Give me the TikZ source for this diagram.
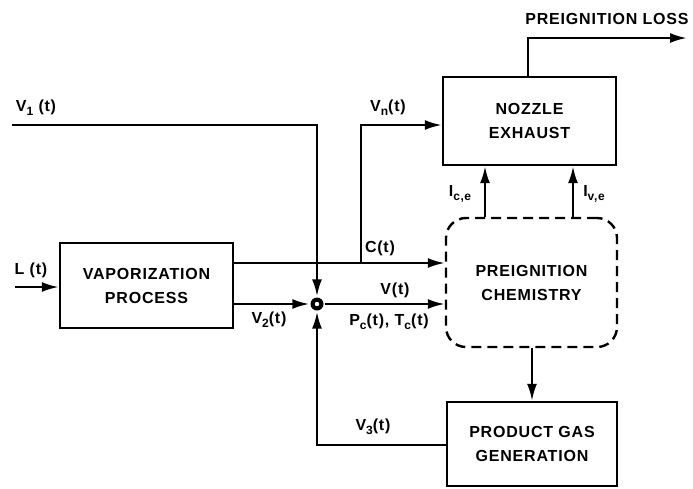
\documentclass[tikz,border=0pt]{standalone}
\usepackage{fontspec}
\setmainfont[LetterSpace=5]{Liberation Sans}
\usetikzlibrary{arrows.meta}
\newcommand\lowsub[1]{\raisebox{-4pt}{\fontsize{12}{12}\selectfont #1}}
\begin{document}
\begin{tikzpicture}[x=1pt,y=-1pt,line width=2.4pt,
  font=\fontsize{16}{19}\selectfont\bfseries,
  box/.style={draw,align=center,inner sep=0pt},
  chembox/.style={box,dash pattern=on 10pt off 6pt,rounded corners=20pt},
  sig/.style={-{Latex[length=17pt,width=10pt]}},
  lbl/.style={inner sep=1pt}]
\useasboundingbox (0,0) rectangle (693,488);
% blocks
\node[box,minimum width=173pt,minimum height=85pt] (vap) at (146.5,285.5) {VAPORIZATION\\[5pt]PROCESS};
\node[box,minimum width=173pt,minimum height=88pt] (noz) at (529.5,121) {NOZZLE\\[5pt]EXHAUST};
\node[chembox,minimum width=171pt,minimum height=129pt] (pre) at (531.5,282.5) {PREIGNITION\\[5pt]CHEMISTRY};
\node[box,minimum width=170pt,minimum height=84pt] (gas) at (532,444) {PRODUCT GAS\\[5pt]GENERATION};
\node[circle,fill,inner sep=0pt,minimum size=13pt] (sum) at (317,304) {};
\fill[white] (sum) circle (2.2pt);
% corner points
\coordinate (lin) at (15,287);
\coordinate (v1in) at (12,125);
\coordinate (cjoin) at (361,263);
\coordinate (vnup) at (361,125);
\coordinate (lossup) at (528,38);
\coordinate (lossout) at (687,38);
\coordinate (v3in) at (317,445);
% signals
\draw[sig] (lin) -- (vap.west |- lin);
\draw[sig] (v1in) -- (sum |- v1in) -- (sum.north);
\draw[sig] (vap.east |- sum) -- (sum.west);
\draw[sig] (gas.west |- v3in) -- (v3in) -- (sum.south);
\draw[sig] (sum.east) -- (pre.west |- sum);
\draw[sig] (vap.east |- cjoin) -- (pre.west |- cjoin);
\draw[sig] (cjoin) -- (vnup) -- (noz.west |- vnup);
\draw[sig] (noz.north -| lossup) -- (lossup) -- (lossout);
\draw[sig] (pre.north -| 485,0) -- (noz.south -| 485,0);
\draw[sig] (pre.north -| 573,0) -- (noz.south -| 573,0);
\draw[sig] (pre.south -| gas.north) -- (gas.north);
% labels
\node[lbl] (lblL) at (31,270) {L (t)};
\node[lbl] (lblVi) at (36,108) {V\lowsub{1} (t)};
\node[lbl] (lblVn) at (388,108) {V\lowsub{n}(t)};
\node[lbl] (lblC) at (380,248) {C(t)};
\node[lbl] (lblV) at (395,290) {V(t)};
\node[lbl] (lblPT) at (389,322) {P\lowsub{c}(t), T\lowsub{c}(t)};
\node[lbl] (lblVii) at (269,320) {V\lowsub{2}(t)};
\node[lbl] (lblViii) at (373,427) {V\lowsub{3}(t)};
\node[lbl] (lblIc) at (460,194) {I\lowsub{c,e}};
\node[lbl] (lblIv) at (594,194) {I\lowsub{v,e}};
\node[lbl] (lblLoss) at (607,19) {PREIGNITION LOSS};
\end{tikzpicture}
\end{document}
